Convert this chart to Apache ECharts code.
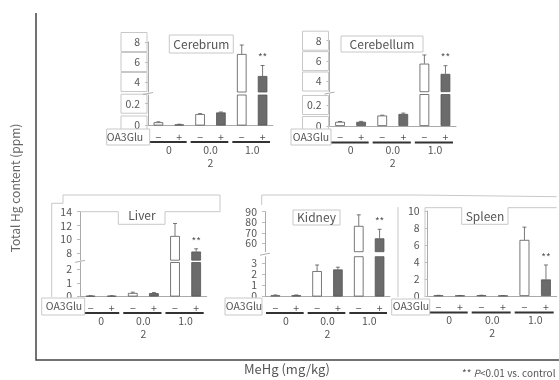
<!DOCTYPE html>
<html>
<head>
<meta charset="utf-8">
<script src="https://cdn.jsdelivr.net/npm/echarts@6/dist/echarts.min.js"></script>
<style>
  html, body { margin: 0; padding: 0; background: #fff; }
  #chart { width: 559px; height: 380px; }
</style>
</head>
<body>
<div id="chart"></div>
<script>
// categories
const oaLabels = ['−', '+', '−', '+', '−', '+'];
const doseLabels = ['0', '0.0\n2', '1.0'];

// mean / SD per organ (ppm), order: 0-, 0+, 0.02-, 0.02+, 1.0-, 1.0+
const cerebrumMean = [0.03, 0.01, 0.105, 0.12, 6.8, 4.6];
const cerebrumSd = [0.004, 0.002, 0.004, 0.004, 0.9, 1.05];
const cerebellumMean = [0.04, 0.04, 0.1, 0.115, 5.75, 4.75];
const cerebellumSd = [0.003, 0.004, 0.003, 0.008, 0.85, 0.8];
const liverMean = [0.05, 0.05, 0.26, 0.25, 10.5, 8.25];
const liverSd = [0.01, 0.01, 0.06, 0.04, 1.8, 0.4];
const kidneyMean = [0.12, 0.12, 2.3, 2.45, 76.5, 64.7];
const kidneySd = [0.02, 0.02, 0.55, 0.2, 10.5, 8.6];
const spleenMean = [0.06, 0.05, 0.07, 0.03, 6.6, 1.95];
const spleenSd = [0.02, 0.01, 0.02, 0.01, 1.5, 1.7];
const sigIndex = 5;

// tick labels
const cerebrumTicksHi = [4, 6, 8];
const cerebrumTicksLo = [0, 0.2];
const liverTicksHi = [8, 10, 12, 14];
const liverTicksLo = [0, 1, 2];
const kidneyTicksHi = [60, 70, 80, 90];
const kidneyTicksLo = [0, 1, 2, 3];
const spleenTicks = [0, 2, 4, 6, 8, 10];

const FONT = '"Noto Sans CJK JP", "Noto Sans", sans-serif';
const DARK = '#6b6b6b';
const BOX = '#c8c8c8';
const TXT = '#555';

const panels = [
  { name: 'Cerebrum', mean: cerebrumMean, sd: cerebrumSd, left: 148, width: 125, boxed: true,
    parts: [{ top: 42, height: 50, min: 3, max: 8, ticks: cerebrumTicksHi },
            { top: 95, height: 30.5, min: 0, max: 0.28, ticks: cerebrumTicksLo }] },
  { name: 'Cerebellum', mean: cerebellumMean, sd: cerebellumSd, left: 329.5, width: 126.5, boxed: true,
    parts: [{ top: 40.7, height: 51, min: 3, max: 8, ticks: cerebrumTicksHi },
            { top: 94.5, height: 31.5, min: 0, max: 0.3, ticks: cerebrumTicksLo }] },
  { name: 'Liver', mean: liverMean, sd: liverSd, left: 80, width: 126.7,
    parts: [{ top: 211.7, height: 48.5, min: 7, max: 14, ticks: liverTicksHi },
            { top: 262.5, height: 34, min: 0, max: 2.5, ticks: liverTicksLo }] },
  { name: 'Kidney', mean: kidneyMean, sd: kidneySd, left: 265, width: 125,
    parts: [{ top: 211.7, height: 40, min: 52, max: 90, ticks: kidneyTicksHi },
            { top: 256.7, height: 39.8, min: 0, max: 3.6, ticks: kidneyTicksLo }] },
  { name: 'Spleen', mean: spleenMean, sd: spleenSd, left: 427.7, width: 129,
    parts: [{ top: 211, height: 85, min: 0, max: 10, ticks: spleenTicks }] }
];

const grid = [], xAxis = [], yAxis = [], series = [], graphic = [];

function errorBars(params, api) {
  const i = api.value(0);
  const top = api.coord([i, api.value(2)]);
  const base = api.coord([i, api.value(1)]);
  const children = [
    { type: 'line', shape: { x1: top[0], y1: base[1], x2: top[0], y2: top[1] }, style: { stroke: '#555', lineWidth: 0.8 } },
    { type: 'line', shape: { x1: top[0] - 2, y1: top[1], x2: top[0] + 2, y2: top[1] }, style: { stroke: '#555', lineWidth: 0.8 } }
  ];
  if (params.dataIndex === sigIndex) {
    children.push({ type: 'text', x: top[0], y: top[1] - 8,
      style: { text: '**', fill: TXT, fontSize: 10, fontFamily: FONT, align: 'center', verticalAlign: 'middle' } });
  }
  return { type: 'group', children };
}

panels.forEach(p => {
  p.parts.forEach((part, k) => {
    const gi = grid.length;
    const isBottom = k === p.parts.length - 1;
    grid.push({ left: p.left, top: part.top, width: p.width, height: part.height, outerBoundsMode: 'none' });
    const xi = xAxis.length;
    xAxis.push({
      type: 'category', gridIndex: gi, data: oaLabels, show: isBottom, position: 'bottom',
      axisLine: { onZero: false, lineStyle: { color: '#aaa', width: 1 } },
      axisTick: { length: 4, lineStyle: { color: BOX } },
      axisLabel: { margin: 6, color: TXT, fontSize: 10.5, fontFamily: FONT }
    });
    if (isBottom) {
      xAxis.push({
        type: 'category', gridIndex: gi, data: doseLabels, position: 'bottom',
        axisLine: { show: false }, axisTick: { show: false },
        axisLabel: { margin: 18, lineHeight: 13, color: TXT, fontSize: 10.5, fontFamily: FONT }
      });
    }
    const label = { customValues: part.ticks, color: TXT, fontSize: 10.5, lineHeight: 10, fontFamily: FONT, margin: 8,
      hideOverlap: false, showMinLabel: true, showMaxLabel: true };
    if (p.boxed) {
      Object.assign(label, { borderColor: BOX, borderWidth: 1, width: 16, lineHeight: 13, padding: [3, 7, 3, 3], align: 'right', margin: 1 });
    }
    yAxis.push({
      type: 'value', gridIndex: gi, min: part.min, max: part.max,
      splitLine: { show: false },
      axisLine: { show: true, lineStyle: { color: '#aaa' } },
      axisTick: { show: true, length: 3, customValues: part.ticks, lineStyle: { color: '#bbb' } },
      axisLabel: label
    });
    series.push({
      type: 'bar', xAxisIndex: xi, yAxisIndex: gi, data: p.mean, barWidth: '46%', clip: true,
      itemStyle: { color: d => (d.dataIndex % 2 ? DARK : '#fff'), borderColor: '#555', borderWidth: 0.8 },
      silent: true
    });
    series.push({
      type: 'custom', xAxisIndex: xi, yAxisIndex: gi, clip: true, silent: true,
      data: p.mean.map((m, i) => [i, m, m + p.sd[i]]),
      renderItem: errorBars
    });
  });
  // dose group underlines
  const last = p.parts[p.parts.length - 1];
  const baseY = last.top + last.height + 16.5;
  for (let g = 0; g < 3; g++) {
    const w = p.width / 3;
    graphic.push({ type: 'line', shape: { x1: p.left + g * w + 1, y1: baseY, x2: p.left + (g + 1) * w - 3, y2: baseY },
      style: { stroke: '#333', lineWidth: 2 } });
  }
  // axis break marks
  if (p.parts.length > 1) {
    const gapY = (p.parts[0].top + p.parts[0].height + p.parts[1].top) / 2;
    graphic.push({ type: 'polyline', shape: { points: [[p.left - 5, gapY + 1], [p.left + 5, gapY - 1]] }, style: { stroke: '#999', lineWidth: 0.8 } });
  }
});

const boxStyle = { stroke: BOX, fill: '#fff', lineWidth: 1 };
const titleStyle = { fill: TXT, fontSize: 12, fontFamily: FONT, align: 'center', verticalAlign: 'middle' };
const oaStyle = { fill: TXT, fontSize: 10.5, fontFamily: FONT, align: 'center', verticalAlign: 'middle' };

graphic.push(
  // outer frame
  { type: 'polyline', shape: { points: [[36, 13], [36, 360], [559, 360]] }, style: { stroke: '#444', lineWidth: 1.5 } },
  // panel frames
  { type: 'polyline', shape: { points: [[51.7, 297], [51.7, 203.3], [63, 203.3], [63, 195], [220, 195], [220, 211.7]] }, style: { stroke: BOX, lineWidth: 1, fill: null } },
  { type: 'polyline', shape: { points: [[80, 211.7], [118.3, 211.7], [118.3, 224.3], [165, 224.3], [165, 211.7], [220, 211.7]] }, style: { stroke: BOX, lineWidth: 1, fill: null } },
  { type: 'polyline', shape: { points: [[261.7, 205], [261.7, 195], [416.7, 195], [556.7, 196.7]] }, style: { stroke: BOX, lineWidth: 1, fill: null } },
  { type: 'polyline', shape: { points: [[398, 297], [398, 207]] }, style: { stroke: BOX, lineWidth: 1 } },
  { type: 'polyline', shape: { points: [[425, 297], [425, 207.7], [461.7, 207.7], [461.7, 224.3], [508, 224.3], [508, 207.7], [556.7, 207.7]] }, style: { stroke: BOX, lineWidth: 1, fill: null } },
  // titles
  { type: 'rect', shape: { x: 169.3, y: 35, width: 64, height: 18 }, style: boxStyle },
  { type: 'text', x: 201.3, y: 44, style: Object.assign({ text: 'Cerebrum' }, titleStyle) },
  { type: 'rect', shape: { x: 341, y: 36, width: 82, height: 16 }, style: boxStyle },
  { type: 'text', x: 382, y: 44, style: Object.assign({ text: 'Cerebellum' }, titleStyle) },
  { type: 'text', x: 142, y: 215, style: Object.assign({ text: 'Liver' }, titleStyle) },
  { type: 'rect', shape: { x: 293, y: 210, width: 47, height: 15 }, style: boxStyle },
  { type: 'text', x: 316.5, y: 217, style: Object.assign({ text: 'Kidney' }, titleStyle) },
  { type: 'text', x: 485, y: 216.5, style: Object.assign({ text: 'Spleen' }, titleStyle) },
  // OA3Glu row labels
  { type: 'rect', shape: { x: 106.7, y: 129, width: 43, height: 16 }, style: boxStyle },
  { type: 'text', x: 125, y: 137, style: Object.assign({ text: 'OA3Glu' }, oaStyle) },
  { type: 'rect', shape: { x: 291, y: 129, width: 40, height: 16 }, style: boxStyle },
  { type: 'text', x: 311, y: 137, style: Object.assign({ text: 'OA3Glu' }, oaStyle) },
  { type: 'rect', shape: { x: 41.7, y: 298, width: 43, height: 17 }, style: boxStyle },
  { type: 'text', x: 64, y: 306, style: Object.assign({ text: 'OA3Glu' }, oaStyle) },
  { type: 'rect', shape: { x: 225, y: 298, width: 37, height: 17 }, style: boxStyle },
  { type: 'text', x: 244, y: 306, style: Object.assign({ text: 'OA3Glu' }, oaStyle) },
  { type: 'rect', shape: { x: 391.7, y: 299, width: 38, height: 16 }, style: boxStyle },
  { type: 'text', x: 411, y: 306, style: Object.assign({ text: 'OA3Glu' }, oaStyle) },
  // axis titles and note
  { type: 'text', x: 15, y: 188, rotation: Math.PI / 2,
    style: { text: 'Total Hg content (ppm)', fill: '#666', fontSize: 12, fontFamily: FONT, align: 'center', verticalAlign: 'middle' } },
  { type: 'text', x: 287, y: 369,
    style: { text: 'MeHg (mg/kg)', fill: '#555', fontSize: 13, fontFamily: FONT, align: 'center', verticalAlign: 'middle' } },
  { type: 'text', x: 462, y: 373,
    style: { text: '{a|** }{i|P}{a|<0.01 vs. control}', fill: TXT, fontSize: 10, fontFamily: FONT, verticalAlign: 'middle',
      rich: { a: { fontSize: 10, fill: TXT, fontFamily: FONT }, i: { fontSize: 10, fill: TXT, fontStyle: 'italic', fontFamily: FONT } } } }
);

const chart = echarts.init(document.getElementById('chart'));
chart.setOption({
  animation: false,
  grid, xAxis, yAxis, series,
  graphic: { elements: graphic.map(g => Object.assign({ z: 100 }, g)) }
});
</script>
</body>
</html>
